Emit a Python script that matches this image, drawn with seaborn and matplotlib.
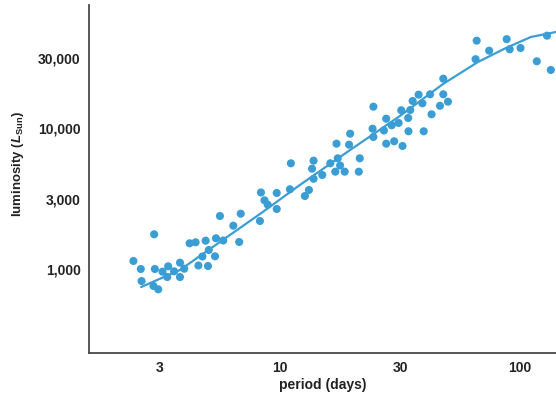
import numpy as np
import pandas as pd
import seaborn as sns
import matplotlib.pyplot as plt
from matplotlib.ticker import NullLocator

period = [2.45, 2.63, 2.65, 2.99, 3.01, 2.97, 3.11, 3.24, 3.42, 3.39,
          3.62, 3.83, 3.83, 3.99, 4.20, 4.45, 4.57, 4.75, 4.90, 5.01,
          5.05, 5.36, 5.41, 5.62, 5.80, 6.39, 6.76, 6.86, 8.25, 8.33,
          8.62, 8.89, 9.69, 9.69, 11.0, 12.7, 13.2, 11.1, 13.8, 13.6,
          13.8, 15.0, 16.2, 17.0, 17.4, 17.8, 18.6, 17.2, 19.4, 19.6,
          21.5, 21.3, 24.5, 24.3, 24.5, 27.1, 27.7, 27.7, 29.2, 29.9,
          31.2, 32.4, 32.0, 34.2, 34.3, 34.9, 35.7, 37.8, 39.2, 39.7,
          42.2, 42.8, 46.4, 47.9, 47.9, 50.1, 66.0, 65.3, 74.4, 88.0,
          90.6, 100.5, 117.5, 134.4, 129.6]
luminosity = [1140, 1000, 821, 1765, 1000, 757, 717, 957, 1045, 877,
              963, 1109, 877, 1005, 1523, 1548, 1059, 1227, 1589, 1050,
              1365, 1231, 1653, 2381, 1594, 2031, 1556, 2472, 2194, 3498,
              3078, 2864, 2670, 3469, 3686, 3303, 3644, 5639, 5884, 5162,
              4377, 4658, 5639, 4915, 6121, 5439, 4915, 7773, 7647, 9154,
              6121, 4915, 14240, 9936, 8675, 9647, 11700, 7773, 10500, 8086,
              10910, 7485, 13430, 11840, 9522, 13490, 15630, 17330, 15050, 9522,
              17440, 12570, 14450, 17440, 22520, 15450, 41940, 30980, 35610, 42990,
              36430, 37210, 29940, 25970, 45500]

# trend curve
curve_period = [2.64, 3.83, 5.62, 8.25, 12.1, 19.6, 31.6, 47.8, 66.8, 87.4, 111.1, 141.3]
curve_lum = [745, 984, 1556, 2460, 3954, 7012, 12230, 20650, 29590, 37210, 44570, 48350]

x_tick_vals = [10**0.5, 10**0.75, 10**1, 10**1.25, 10**1.5, 10**1.75, 10**2]
x_tick_labels = ['3', '', '10', '', '30', '', '100']
y_tick_vals = [10**2.75, 10**3, 10**3.25, 10**3.5, 10**3.75, 10**4, 10**4.25, 10**4.5, 10**4.75]
y_tick_labels = ['', '1,000', '', '3,000', '', '10,000', '', '30,000', '']

stars = pd.DataFrame({'period': period, 'luminosity': luminosity})
curve = pd.DataFrame({'period': curve_period, 'luminosity': curve_lum})

sns.set_style('white')
plt.rcParams['font.family'] = ['Liberation Sans', 'DejaVu Sans']
plt.rcParams['font.weight'] = 'bold'
plt.rcParams['mathtext.fontset'] = 'custom'
plt.rcParams['mathtext.rm'] = 'Liberation Sans:bold'
plt.rcParams['mathtext.it'] = 'Liberation Sans:italic:bold'

blue = '#3a9ed4'
dark = '#4a4a4a'

fig = plt.figure(figsize=(5.56, 3.95), dpi=100)
ax = fig.add_axes([0.160, 0.1063, 0.840, 0.881])

sns.lineplot(data=curve, x='period', y='luminosity', color=blue, linewidth=1.6, ax=ax)
sns.scatterplot(data=stars, x='period', y='luminosity', color=blue, s=34,
                edgecolor='none', ax=ax, zorder=3)

ax.set_xscale('log')
ax.set_yscale('log')
ax.set_xlim(10**0.204, 10**2.15)
ax.set_ylim(10**2.403, 10**4.876)

ax.set_xticks(x_tick_vals)
ax.set_xticklabels(x_tick_labels)
ax.set_yticks(y_tick_vals)
ax.set_yticklabels(y_tick_labels)
ax.xaxis.set_minor_locator(NullLocator())
ax.yaxis.set_minor_locator(NullLocator())

ax.tick_params(axis='both', direction='in', length=4.5, width=1, color=dark,
               labelsize=10, labelcolor='#222222', pad=6)
for lab in ax.get_xticklabels() + ax.get_yticklabels():
    lab.set_fontweight('bold')

sns.despine(ax=ax)
for side in ['left', 'bottom']:
    ax.spines[side].set_color(dark)
    ax.spines[side].set_linewidth(1.3)

ax.set_xlabel('period (days)', fontsize=10, fontweight='bold', color='#222222')
ax.set_ylabel('luminosity ($L_{\\mathrm{Sun}}$)', fontsize=9.5, fontweight='bold', color='#222222')
ax.xaxis.set_label_coords(0.5, -0.072)
ax.yaxis.set_label_coords(-0.135, 0.543)

fig.savefig('out.png', dpi=100)
